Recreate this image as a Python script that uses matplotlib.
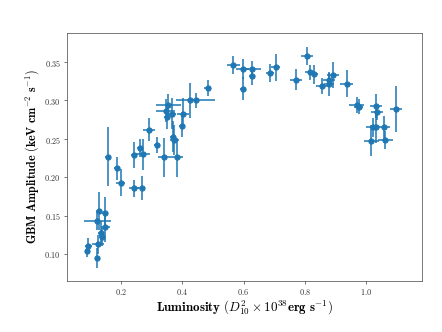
import matplotlib
matplotlib.use("Agg")
import matplotlib.pyplot as plt
from matplotlib.ticker import FuncFormatter

plt.rcParams["mathtext.fontset"] = "cm"
plt.rcParams["font.family"] = "serif"

# luminosity, amplitude and their errors
lum = [0.089, 0.092, 0.1205, 0.123, 0.136, 0.133, 0.147, 0.1215, 0.128, 0.147,
       0.157, 0.187, 0.198, 0.2415, 0.267, 0.2415, 0.270, 0.261, 0.291, 0.316,
       0.341, 0.381, 0.370, 0.3735, 0.398, 0.403, 0.3486, 0.365, 0.345, 0.354,
       0.426, 0.443, 0.483, 0.567, 0.597, 0.599, 0.627, 0.627, 0.687, 0.706,
       0.772, 0.809, 0.8175, 0.8305, 0.8557, 0.8797, 0.881, 0.892, 0.9375, 0.970,
       0.977, 1.0335, 1.038, 1.099, 1.0226, 1.0335, 1.06, 1.019, 1.064]
lum_err = [0.008, 0.012, 0.008, 0.02, 0.01, 0.01, 0.015, 0.045, 0.01, 0.01,
           0.01, 0.01, 0.015, 0.015, 0.012, 0.01, 0.025, 0.01, 0.02, 0.01,
           0.02, 0.02, 0.01, 0.015, 0.01, 0.02, 0.01, 0.015, 0.03, 0.04,
           0.012, 0.065, 0.012, 0.02, 0.02, 0.01, 0.03, 0.01, 0.012, 0.015,
           0.02, 0.02, 0.015, 0.015, 0.02, 0.015, 0.02, 0.02, 0.02, 0.025,
           0.015, 0.02, 0.02, 0.02, 0.02, 0.01, 0.02, 0.025, 0.025]
amp = [0.104, 0.111, 0.095, 0.1126, 0.1225, 0.128, 0.1355, 0.143, 0.156, 0.154,
       0.227, 0.212, 0.193, 0.1855, 0.186, 0.229, 0.230, 0.238, 0.262, 0.242,
       0.226, 0.226, 0.2527, 0.2484, 0.267, 0.283, 0.278, 0.283, 0.2866, 0.294,
       0.300, 0.300, 0.316, 0.346, 0.3405, 0.315, 0.3405, 0.332, 0.336, 0.343,
       0.327, 0.358, 0.3366, 0.334, 0.319, 0.321, 0.327, 0.333, 0.322, 0.294,
       0.292, 0.293, 0.2845, 0.2884, 0.265, 0.265, 0.265, 0.2475, 0.2484]
amp_err = [0.008, 0.010, 0.013, 0.012, 0.012, 0.015, 0.02, 0.012, 0.025, 0.02,
           0.038, 0.015, 0.018, 0.011, 0.016, 0.017, 0.02, 0.012, 0.015, 0.01,
           0.025, 0.025, 0.02, 0.02, 0.015, 0.02, 0.015, 0.02, 0.015, 0.015,
           0.023, 0.01, 0.01, 0.012, 0.013, 0.015, 0.011, 0.012, 0.012, 0.018,
           0.014, 0.012, 0.01, 0.012, 0.01, 0.015, 0.01, 0.017, 0.017, 0.01,
           0.01, 0.016, 0.01, 0.03, 0.012, 0.02, 0.015, 0.02, 0.012]

fig = plt.figure(figsize=(6.4, 4.8), dpi=69.2)
ax = fig.add_axes([67 / 443, 51 / 332, 355 / 443, 248 / 332])

ax.errorbar(lum, amp, xerr=lum_err, yerr=amp_err, fmt="o", color="#1f77b4",
            ms=5.5, lw=1.6, capsize=0)

ax.set_xlim(0.022, 1.184)
ax.set_ylim(0.065, 0.388)
ax.set_xticks([0.2, 0.4, 0.6, 0.8, 1.0])
ax.set_yticks([0.10, 0.15, 0.20, 0.25, 0.30, 0.35])
ax.xaxis.set_major_formatter(FuncFormatter(lambda v, p: f"${v:.1f}$"))
ax.yaxis.set_major_formatter(FuncFormatter(lambda v, p: f"${v:.2f}$"))
ax.tick_params(labelsize=8.5, length=3, color="#555555", labelcolor="#333333")
for s in ax.spines.values():
    s.set_color("#555555")

ax.set_xlabel(r"$\mathbf{Luminosity}\ (D_{\mathbf{10}}^{\mathbf{2}}\times"
              r"\mathbf{10^{38}erg\ s^{-1}})$", fontsize=13.5, labelpad=1)
ax.set_ylabel(r"$\mathbf{GBM\ Amplitude\ (keV\ cm^{-2}\ s^{-1})}$",
              fontsize=12.5, labelpad=4)

fig.savefig("out.png", dpi=69.2)
